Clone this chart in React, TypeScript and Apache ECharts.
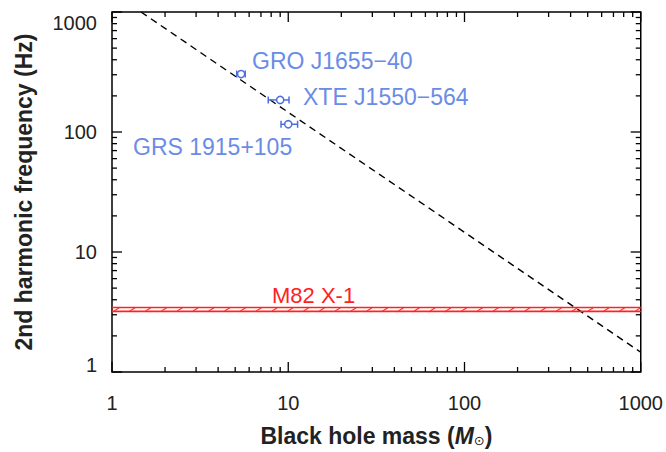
import React, { useEffect, useRef } from 'react';
import * as echarts from 'echarts';

// ---- data ----
const sourceNames = ['GRO J1655−40', 'XTE J1550−564', 'GRS 1915+105'];
const sourceMass = [5.4, 9.0, 10.0];
const sourceMassLow = [5.1, 7.7, 9.1];
const sourceMassHigh = [5.7, 10.1, 11.3];
const sourceFreq = [304, 185, 116];

const relationMass = [1.46, 1000];
const relationFreq = [1000, 1.46];

const m82Name = 'M82 X-1';
const m82FreqBand = [3.2, 3.45];

const xTickValues = [1, 10, 100, 1000];
const yTickValues = [1, 10, 100, 1000];
const minorMultipliers = [2, 3, 4, 5, 6, 7, 8, 9];

const X_MIN = 1;
const X_MAX = 1000;
const Y_MIN = 1;
const Y_MAX = 1000;

const FONT = '"Liberation Sans", Arial, Helvetica, sans-serif';
const BLUE_TEXT = '#6a8ce6';
const BLUE_MARK = '#4a6ee0';
const RED = '#ff2222';

export default function App() {
  const ref = useRef<HTMLDivElement>(null);

  useEffect(() => {
    if (!ref.current) return;
    const chart = echarts.init(ref.current, undefined, { renderer: 'svg' });

    // tick lists: [x, y, isMajor]
    const decades = [1, 10, 100];
    const xTicks: number[][] = [];
    const yTicks: number[][] = [];
    decades.forEach((d) => {
      minorMultipliers.forEach((m) => {
        xTicks.push([d * m, Y_MIN, 0]);
        yTicks.push([X_MIN, d * m, 0]);
      });
    });
    xTickValues.forEach((v) => xTicks.push([v, Y_MIN, 1]));
    yTickValues.forEach((v) => yTicks.push([X_MIN, v, 1]));

    const tickStyle = { stroke: '#000', lineWidth: 1.3 };

    const option: any = {
      animation: false,
      grid: {
        left: 112,
        right: 25,
        top: 12,
        bottom: 80,
        show: true,
        borderColor: '#000',
        borderWidth: 1.5,
        backgroundColor: 'transparent',
      },
      xAxis: {
        type: 'log',
        logBase: 10,
        min: X_MIN,
        max: X_MAX,
        axisLine: { show: false },
        axisTick: { show: false },
        splitLine: { show: false },
        minorTick: { show: false },
        axisLabel: {
          fontFamily: FONT,
          fontSize: 20,
          color: '#222',
          margin: 21,
          formatter: (v: number) => String(Math.round(v)),
        },
        name: '{b|Black hole mass (}{i|M}{s|⊙}{b|)}',
        nameLocation: 'middle',
        nameGap: 52,
        nameTextStyle: {
          rich: {
            b: { fontFamily: FONT, fontWeight: 'bold', fontSize: 23, color: '#222' },
            i: { fontFamily: FONT, fontWeight: 'bold', fontStyle: 'italic', fontSize: 23, color: '#222' },
            s: { fontFamily: '"DejaVu Sans", sans-serif', fontSize: 13, color: '#222', verticalAlign: 'bottom', padding: [10, 0, 0, 0] },
          },
        },
      },
      yAxis: {
        type: 'log',
        logBase: 10,
        min: Y_MIN,
        max: Y_MAX,
        axisLine: { show: false },
        axisTick: { show: false },
        splitLine: { show: false },
        minorTick: { show: false },
        axisLabel: {
          fontFamily: FONT,
          fontSize: 20,
          color: '#222',
          margin: 15,
          formatter: (v: number) => {
            const r = Math.round(v);
            if (r === Y_MAX) return '{top|' + r + '}';
            if (r === Y_MIN) return '{bot|' + r + '}';
            return String(r);
          },
          rich: {
            top: { fontFamily: FONT, fontSize: 20, color: '#222', padding: [22, 0, 0, 0] },
            bot: { fontFamily: FONT, fontSize: 20, color: '#222', padding: [0, 0, 14, 0] },
          },
        },
        name: '2nd harmonic frequency (Hz)',
        nameLocation: 'middle',
        nameGap: 77,
        nameTextStyle: {
          fontFamily: FONT,
          fontWeight: 'bold',
          fontSize: 23,
          color: '#222',
        },
      },
      series: [
        {
          type: 'line',
          data: relationMass.map((m, i) => [m, relationFreq[i]]),
          showSymbol: false,
          symbol: 'none',
          clip: true,
          lineStyle: { color: '#000', width: 1.4, type: [7, 5] },
          z: 3,
        },
        {
          type: 'custom',
          data: [[X_MIN, m82FreqBand[0], m82FreqBand[1]]],
          encode: { x: 0, y: 1 },
          renderItem: (params: any, api: any) => {
            const lo = api.value(1);
            const hi = api.value(2);
            const pTop = api.coord([X_MIN, hi]);
            const pBot = api.coord([X_MAX, lo]);
            const x0 = pTop[0];
            const x1 = pBot[0];
            const yT = pTop[1];
            const yB = pBot[1];
            const children: any[] = [
              { type: 'line', shape: { x1: x0, y1: yT, x2: x1, y2: yT }, style: { stroke: RED, lineWidth: 1.6 } },
              { type: 'line', shape: { x1: x0, y1: yB, x2: x1, y2: yB }, style: { stroke: RED, lineWidth: 1.6 } },
            ];
            for (let x = x0 + 2; x < x1 - 2; x += 15.8) {
              children.push({
                type: 'line',
                shape: { x1: x, y1: yB - 0.5, x2: x + 5, y2: yT + 0.5 },
                style: { stroke: RED, lineWidth: 1.1 },
              });
            }
            return { type: 'group', children };
          },
          z: 4,
        },
        {
          type: 'custom',
          data: sourceMass.map((m, i) => [m, sourceFreq[i], sourceMassLow[i], sourceMassHigh[i]]),
          encode: { x: 0, y: 1 },
          renderItem: (params: any, api: any) => {
            const m = api.value(0);
            const f = api.value(1);
            const c = api.coord([m, f]);
            const l = api.coord([api.value(2), f]);
            const h = api.coord([api.value(3), f]);
            const r = 3.6;
            const st = { stroke: BLUE_MARK, lineWidth: 1.5, fill: 'none' };
            const children: any[] = [
              { type: 'circle', shape: { cx: c[0], cy: c[1], r }, style: { ...st } },
              { type: 'line', shape: { x1: l[0], y1: l[1] - 3.5, x2: l[0], y2: l[1] + 3.5 }, style: { ...st } },
              { type: 'line', shape: { x1: h[0], y1: h[1] - 3.5, x2: h[0], y2: h[1] + 3.5 }, style: { ...st } },
            ];
            if (c[0] - r > l[0]) {
              children.push({ type: 'line', shape: { x1: l[0], y1: c[1], x2: c[0] - r, y2: c[1] }, style: { ...st } });
            }
            if (h[0] > c[0] + r) {
              children.push({ type: 'line', shape: { x1: c[0] + r, y1: c[1], x2: h[0], y2: c[1] }, style: { ...st } });
            }
            return { type: 'group', children };
          },
          z: 5,
        },
        {
          type: 'custom',
          data: xTicks,
          encode: { x: 0, y: 1 },
          renderItem: (params: any, api: any) => {
            const v = api.value(0);
            const len = api.value(2) ? 10 : 5;
            const b = api.coord([v, Y_MIN]);
            const t = api.coord([v, Y_MAX]);
            return {
              type: 'group',
              children: [
                { type: 'line', shape: { x1: b[0], y1: b[1], x2: b[0], y2: b[1] - len }, style: tickStyle },
                { type: 'line', shape: { x1: t[0], y1: t[1], x2: t[0], y2: t[1] + len }, style: tickStyle },
              ],
            };
          },
          z: 6,
        },
        {
          type: 'custom',
          data: yTicks,
          encode: { x: 0, y: 1 },
          renderItem: (params: any, api: any) => {
            const v = api.value(1);
            const len = api.value(2) ? 10 : 5;
            const l = api.coord([X_MIN, v]);
            const r = api.coord([X_MAX, v]);
            return {
              type: 'group',
              children: [
                { type: 'line', shape: { x1: l[0], y1: l[1], x2: l[0] + len, y2: l[1] }, style: tickStyle },
                { type: 'line', shape: { x1: r[0], y1: r[1], x2: r[0] - len, y2: r[1] }, style: tickStyle },
              ],
            };
          },
          z: 6,
        },
      ],
      graphic: [
        { type: 'text', left: 252, top: 49, style: { text: sourceNames[0], font: '23px ' + FONT, fill: BLUE_TEXT } },
        { type: 'text', left: 303, top: 85, style: { text: sourceNames[1], font: '23px ' + FONT, fill: BLUE_TEXT } },
        { type: 'text', left: 133, top: 135, style: { text: sourceNames[2], font: '23px ' + FONT, fill: BLUE_TEXT } },
        { type: 'text', left: 272, top: 284, style: { text: m82Name, font: '22px ' + FONT, fill: RED } },
      ],
    };

    chart.setOption(option);
    return () => chart.dispose();
  }, []);

  return (
    <div
      ref={ref}
      style={{ position: 'absolute', left: 0, top: 0, width: 666, height: 452 }}
    />
  );
}
